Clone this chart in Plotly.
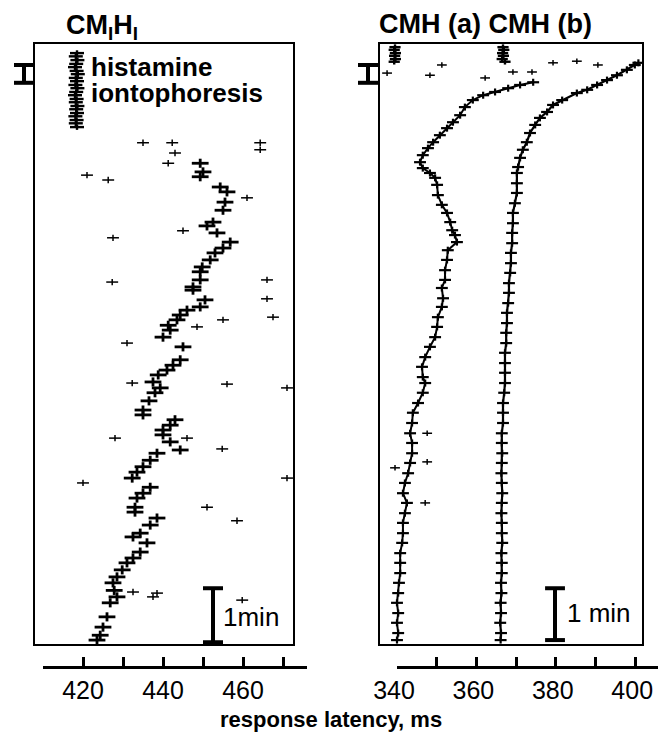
import plotly.graph_objects as go

W, H = 658, 740

# ---------------- data (time in min from top of panel, latency in ms) ----------------
# Left panel CM_I H_I : main response band
left_main_t = [2.19, 2.35, 2.44, 2.63, 2.72, 2.91, 3.06, 3.28, 3.35, 3.48, 3.65, 3.76, 3.85, 3.98,
               4.11, 4.20, 4.35, 4.48, 4.54, 4.72, 4.85, 4.91, 5.00, 5.09, 5.19, 5.28, 5.41, 5.59,
               5.83, 5.93, 6.02, 6.11, 6.24, 6.35, 6.44, 6.59, 6.76, 6.85, 6.94, 7.04, 7.13, 7.22,
               7.35, 7.50, 7.56, 7.69, 7.81, 7.91, 8.02, 8.19, 8.30, 8.39, 8.56, 8.65, 8.76, 8.89,
               9.04, 9.11, 9.22, 9.39, 9.50, 9.59, 9.72, 9.85, 9.96, 10.10, 10.22, 10.33, 10.59,
               10.78, 10.93, 11.02]
left_main_ms = [449.3, 450.0, 449.3, 454.3, 456.0, 455.5, 455.0, 452.5, 451.0, 453.5, 456.8, 455.0,
                453.0, 451.8, 449.8, 449.3, 449.3, 447.5, 447.5, 450.5, 449.3, 446.0, 444.3, 443.5,
                441.3, 441.8, 440.0, 445.0, 444.3, 442.5, 441.0, 438.8, 437.5, 439.3, 438.0, 436.5,
                435.0, 435.0, 443.0, 441.8, 440.0, 440.0, 441.8, 444.3, 438.5, 436.8, 435.0, 433.5,
                432.3, 436.8, 435.0, 433.5, 433.0, 433.0, 438.5, 436.8, 434.3, 432.5, 436.0, 434.3,
                432.5, 431.0, 429.8, 428.5, 427.5, 427.8, 428.5, 426.8, 426.0, 425.0, 424.3, 423.5]
# Left panel: isolated responses
left_out_t = [1.81, 1.81, 2.00, 2.19, 1.81, 1.94, 2.41, 2.50, 2.83, 3.44, 3.57, 4.39, 4.35, 4.70,
              5.04, 5.09, 5.22, 5.52, 6.26, 6.28, 6.35, 7.28, 7.28, 7.48, 8.11, 8.02, 8.56, 8.81,
              10.15, 10.13, 10.22, 10.28]
left_out_ms = [435.0, 442.3, 443.0, 441.3, 464.3, 464.3, 421.0, 426.3, 461.0, 445.0, 427.5, 427.3,
               466.0, 466.0, 467.5, 455.0, 448.5, 431.0, 432.3, 456.0, 471.0, 428.0, 446.0, 454.8,
               420.0, 471.0, 451.0, 458.5, 438.5, 432.5, 437.5, 459.8]
# Left panel: sweeps during histamine iontophoresis (legend stack)
left_stack_t = [0.15, 0.21, 0.28, 0.35, 0.41, 0.48, 0.54, 0.61, 0.67, 0.74, 0.80, 0.87, 0.93, 1.00,
                1.06, 1.13, 1.19, 1.26, 1.32, 1.39, 1.45, 1.52]
left_stack_ms = [418.5, 418.2, 418.6, 418.3, 418.0, 418.4, 418.7, 418.2, 418.5, 418.1, 418.6, 418.3,
                 418.0, 418.4, 418.2, 418.6, 418.3, 418.5, 418.1, 418.4, 418.2, 418.5]

# Right panel CMH (a)
a_t = [0.69, 0.74, 0.80, 0.87, 0.93, 1.02, 1.15, 1.30, 1.43, 1.54, 1.67, 1.80, 1.91, 2.04, 2.17,
       2.28, 2.37, 2.46, 2.59, 2.78, 2.96, 3.11, 3.28, 3.43, 3.52, 3.65, 3.80, 3.98, 4.17, 4.35,
       4.50, 4.69, 4.85, 5.04, 5.22, 5.41, 5.59, 5.78, 5.96, 6.15, 6.26, 6.44, 6.63, 6.81, 7.00,
       7.19, 7.37, 7.56, 7.74, 7.93, 8.11, 8.30, 8.48, 8.67, 8.85, 9.04, 9.22, 9.41, 9.59, 9.78,
       9.96, 10.15, 10.33, 10.52, 10.70, 10.89, 11.02]
a_ms = [374.3, 371.0, 368.0, 364.7, 361.7, 359.1, 357.1, 355.9, 354.1, 352.6, 350.8, 349.1, 347.8,
        346.5, 345.8, 346.5, 348.3, 349.6, 350.1, 350.3, 351.3, 352.6, 353.4, 353.9, 354.6, 355.1,
        352.8, 352.6, 352.1, 352.1, 351.3, 351.6, 351.3, 350.3, 350.1, 349.6, 348.3, 347.1, 346.3,
        346.5, 347.1, 346.5, 345.3, 344.0, 343.8, 343.3, 343.8, 343.8, 343.3, 342.8, 342.0, 341.5,
        342.5, 342.0, 341.5, 341.5, 341.3, 340.8, 340.8, 340.8, 340.5, 340.3, 340.0, 340.3, 340.0,
        340.3, 340.0]
# Right panel CMH (b)
b_t = [0.33, 0.37, 0.46, 0.56, 0.65, 0.74, 0.83, 0.89, 1.02, 1.11, 1.24, 1.35, 1.48, 1.63, 1.80,
       1.94, 2.09, 2.26, 2.37, 2.56, 2.74, 2.93, 3.11, 3.30, 3.48, 3.67, 3.85, 4.04, 4.22, 4.41,
       4.59, 4.78, 4.96, 5.15, 5.33, 5.52, 5.70, 5.89, 6.07, 6.26, 6.44, 6.63, 6.81, 7.00, 7.19,
       7.37, 7.56, 7.74, 7.93, 8.11, 8.30, 8.48, 8.67, 8.85, 9.04, 9.22, 9.41, 9.59, 9.78, 9.96,
       10.15, 10.33, 10.52, 10.70, 10.89, 11.02]
b_ms = [400.8, 399.9, 397.9, 395.4, 392.9, 390.4, 387.9, 385.3, 381.6, 379.3, 377.8, 376.0, 374.8,
        373.5, 372.7, 371.7, 371.0, 370.5, 370.2, 370.2, 370.2, 369.7, 369.2, 369.2, 369.0, 369.0,
        368.7, 368.7, 368.5, 368.2, 368.2, 368.0, 367.7, 367.7, 367.5, 367.5, 367.2, 367.2, 367.2,
        367.2, 367.0, 366.7, 366.7, 366.7, 366.4, 366.4, 366.5, 366.4, 366.3, 366.4, 366.5, 366.4,
        366.3, 366.4, 366.4, 366.5, 366.3, 366.4, 366.4, 366.2, 366.3, 366.1, 366.2, 366.0, 366.2,
        366.1]
# Right panel: baseline sweeps (before histamine)
base_t = [0.04, 0.09, 0.15, 0.20, 0.26, 0.31]
base_a_ms = [339.5, 339.3, 339.6, 339.4, 339.6, 339.3]
base_b_ms = [366.7, 366.9, 366.6, 366.8, 366.5, 367.2]
# Right panel: isolated responses
right_out_t = [0.52, 0.56, 0.37, 0.61, 0.50, 0.50, 0.33, 0.30, 0.37, 7.83, 7.19, 7.72, 8.48]
right_out_ms = [337.5, 348.3, 351.3, 362.2, 369.2, 374.0, 379.3, 385.3, 390.6, 339.5, 347.6,
                347.6, 347.1]

left_ticks = [410, 420, 430, 440, 450, 460, 470]
left_ticktext = ["", "420", "", "440", "", "460", ""]
right_ticks = [340, 350, 360, 370, 380, 390, 400]
right_ticktext = ["340", "", "360", "", "380", "", "400"]

# ---------------- layout helpers (pixel -> paper) ----------------
def px(x):
    return x / W

def py(y):
    return 1 - y / H

FONT = "Liberation Sans, Arial, Helvetica, sans-serif"

fig = go.Figure()

def sweeps(xs, ys, xa, ya, hlen, vlen, lw, connect=False, cw=1.2):
    fig.add_trace(go.Scatter(
        x=xs, y=ys, xaxis=xa, yaxis=ya,
        mode="lines+markers" if connect else "markers",
        line=dict(color="black", width=cw),
        marker=dict(symbol="line-ew", size=hlen, line=dict(color="black", width=lw)),
        hoverinfo="skip"))
    fig.add_trace(go.Scatter(
        x=xs, y=ys, xaxis=xa, yaxis=ya, mode="markers",
        marker=dict(symbol="line-ns", size=vlen, line=dict(color="black", width=lw)),
        hoverinfo="skip"))

# left panel
sweeps(left_stack_ms, left_stack_t, "x", "y", 10, 4, 2.4)
sweeps(left_main_ms, left_main_t, "x", "y", 12, 6.5, 2.8)
sweeps(left_out_ms, left_out_t, "x", "y", 8.5, 4.5, 1.5)
# right panel
sweeps(base_a_ms, base_t, "x2", "y2", 8, 4, 2.4)
sweeps(base_b_ms, base_t, "x2", "y2", 8, 4, 2.4)
sweeps(a_ms, a_t, "x2", "y2", 8.5, 5, 2.2, connect=True, cw=2)
sweeps(b_ms, b_t, "x2", "y2", 8.5, 5, 2.2, connect=True, cw=2.2)
sweeps(right_out_ms, right_out_t, "x2", "y2", 7, 4, 1.5)

# invisible anchors for the offset tick axes
fig.add_trace(go.Scatter(x=[left_ticks[0]], y=[0], xaxis="x3", yaxis="y", mode="markers",
                         marker=dict(opacity=0), hoverinfo="skip"))
fig.add_trace(go.Scatter(x=[right_ticks[0]], y=[0], xaxis="x4", yaxis="y2", mode="markers",
                         marker=dict(opacity=0), hoverinfo="skip"))

t_top, t_bot = (44 - 45) / 54, (644 - 45) / 54
ydom = [py(644), py(44)]
box = dict(showline=True, mirror=True, linecolor="black", linewidth=1.5, ticks="",
           showticklabels=False, showgrid=False, zeroline=False)

axis_pos = py(667)
tickax = dict(anchor="free", position=axis_pos, showline=True, linecolor="black", linewidth=3,
              ticks="inside", ticklen=9, tickwidth=2.5, tickcolor="black",
              tickfont=dict(family=FONT, size=25, color="black"), showgrid=False,
              zeroline=False, ticklabelstandoff=0)

fig.update_layout(
    width=W, height=H, margin=dict(l=0, r=0, t=0, b=0, autoexpand=False),
    paper_bgcolor="white", plot_bgcolor="rgba(0,0,0,0)", showlegend=False,
    xaxis=dict(domain=[px(35), px(293)], range=[408.0, 472.5], anchor="y", **box),
    yaxis=dict(domain=ydom, range=[t_bot, t_top], anchor="x", **box),
    xaxis2=dict(domain=[px(380), px(642)], range=[335.72, 401.71], anchor="y2", **box),
    yaxis2=dict(domain=ydom, range=[t_bot, t_top], anchor="x2", **box),
    xaxis3=dict(domain=[px(43), px(307)], range=[410, 476], tickvals=left_ticks,
                ticktext=left_ticktext, **tickax),
    xaxis4=dict(domain=[px(397), 1.0], range=[340, 405.74], tickvals=right_ticks,
                ticktext=right_ticktext, ticklabelshift=-3, **tickax),
)

# scale bars: 1 min
def ibar(xref, yref, xc, half, t0, t1, width=4):
    fig.add_shape(type="line", xref=xref, yref=yref, x0=xc, x1=xc, y0=t0, y1=t1,
                  line=dict(color="black", width=width))
    for tt in (t0, t1):
        fig.add_shape(type="line", xref=xref, yref=yref, x0=xc - half, x1=xc + half, y0=tt, y1=tt,
                      line=dict(color="black", width=width))

ibar("x", "y", 452.5, 2.5, 10.06, 11.06)
ibar("x2", "y2", 379.8, 2.5, 10.06, 11.02)
# histamine period markers (outside the boxes)
ibar("paper", "y", px(24), px(10), 0.37, 0.70, width=4)
ibar("paper", "y2", px(368), px(10), 0.37, 0.70, width=4)

def text(s, x, y, size, bold=False, xanchor="left"):
    fig.add_annotation(text=f"<b>{s}</b>" if bold else s, x=px(x), y=py(y), xref="paper",
                       yref="paper", showarrow=False, xanchor=xanchor, yanchor="middle",
                       font=dict(family=FONT, size=size, color="black"))

text("CM<sub>I</sub>H<sub>I</sub>", 64, 27, 27, bold=True)
text("CMH (a) CMH (b)", 485, 24, 27, bold=True, xanchor="center")
text("histamine", 89, 67, 26, bold=True)
text("iontophoresis", 89, 93, 26, bold=True)
text("1min", 221, 617, 26)
text("1 min", 565, 613, 26)
text("response latency, ms", 331, 719, 22, bold=True, xanchor="center")

fig.write_html("out.html", config={"displayModeBar": False},
               post_script="document.body.style.margin='0';document.body.style.overflow='hidden';")
